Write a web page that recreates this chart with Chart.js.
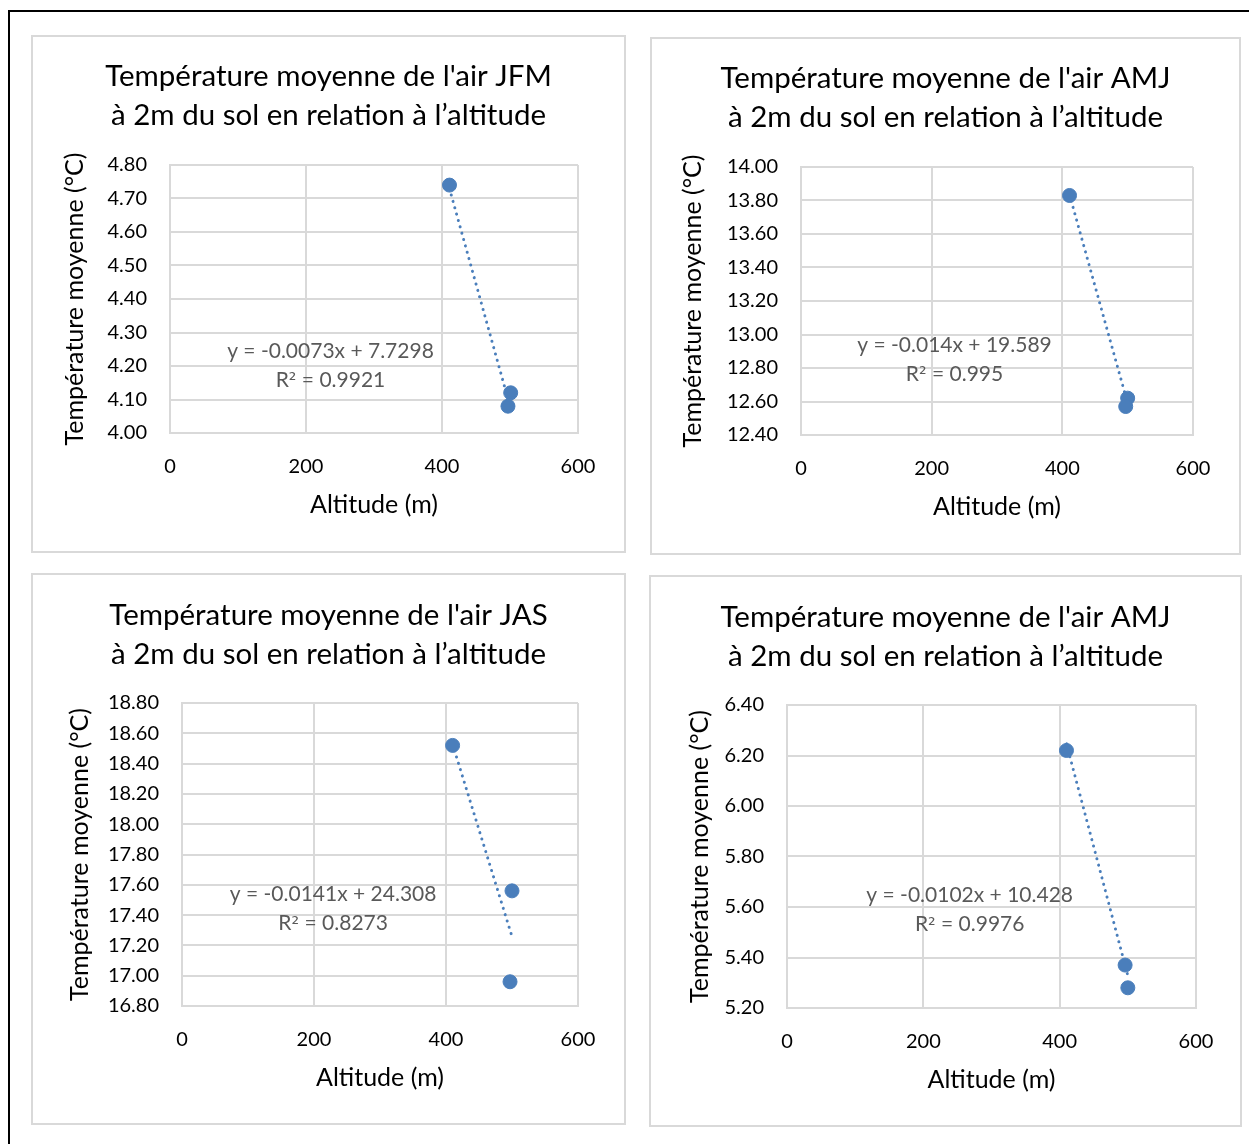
<!DOCTYPE html>
<html>
<head>
<meta charset="utf-8">
<script src="https://cdn.jsdelivr.net/npm/chart.js@4.4.1/dist/chart.umd.min.js"></script>
<style>
  body { margin: 0; background: #fff; width: 1249px; height: 1144px; overflow: hidden; position: relative; }
  #frame { position: absolute; left: 8px; top: 10px; width: 1260px; height: 1200px; border: 2px solid #000; }
  .panel { position: absolute; border: 2px solid #d9d9d9; background: #fff; }
  .panel canvas { display: block; }
</style>
</head>
<body>
<div id="frame"></div>
<div class="panel" style="left:31px;top:35px;width:591px;height:514px"><canvas id="c0"></canvas></div>
<div class="panel" style="left:650px;top:37px;width:587px;height:514px"><canvas id="c1"></canvas></div>
<div class="panel" style="left:31px;top:573px;width:591px;height:548px"><canvas id="c2"></canvas></div>
<div class="panel" style="left:649px;top:575px;width:589px;height:548px"><canvas id="c3"></canvas></div>
<script>
// titles of the four charts
const titleLines1 = [
  "Température moyenne de l'air JFM",
  "Température moyenne de l'air AMJ",
  "Température moyenne de l'air JAS",
  "Température moyenne de l'air AMJ"
];
const titleLine2 = "à 2m du sol en relation à l’altitude";
const xTitle = 'Altitude (m)';
const yTitle = 'Température moyenne (°C)';

// altitude (m) and mean temperature (°C) per station
const altJFM = [411, 501, 497];
const tempJFM = [4.74, 4.12, 4.08];
const altAMJ = [411, 500, 497];
const tempAMJ = [13.83, 12.62, 12.57];
const altJAS = [410, 500, 497];
const tempJAS = [18.52, 17.56, 16.96];
const altAMJ2 = [410, 496, 500];
const tempAMJ2 = [6.22, 5.37, 5.28];

// trendline equations shown on the charts
const slopes = [-0.0073, -0.014, -0.0141, -0.0102];
const intercepts = [7.7298, 19.589, 24.308, 10.428];
const eqLabels = ['y = -0.0073x + 7.7298', 'y = -0.014x + 19.589', 'y = -0.0141x + 24.308', 'y = -0.0102x + 10.428'];
const r2Values = ['0.9921', '0.995', '0.8273', '0.9976'];

// axis ranges / ticks
const xTicks = [0, 200, 400, 600];
const yMin = [4.0, 12.4, 16.8, 5.2];
const yMax = [4.8, 14.0, 18.8, 6.4];
const yStep = [0.1, 0.2, 0.2, 0.2];

const altitudes = [altJFM, altAMJ, altJAS, altAMJ2];
const temps = [tempJFM, tempAMJ, tempJAS, tempAMJ2];

// layout per panel (pixels inside each canvas)
const layouts = [
  { plotLeft: 137, right: 46, padBottom: 31, titleTop: 20, yTitlePad: 27, eqX: 236, eqY: 4.245 },
  { plotLeft: 149, right: 46, padBottom: 31, titleTop: 20, yTitlePad: 26, eqX: 235, eqY: 12.937 },
  { plotLeft: 149, right: 46, padBottom: 30, titleTop: 21, yTitlePad: 32, eqX: 229, eqY: 17.535 },
  { plotLeft: 136, right: 44, padBottom: 30, titleTop: 21, yTitlePad: 34, eqX: 268, eqY: 5.645 }
];

const FONT = 'Lato';
const blue = '#4a7ebb';

// draws the trendline equation and R² under it
const equationPlugin = {
  id: 'equation',
  afterDatasetsDraw(chart, args, opts) {
    const { ctx, scales } = chart;
    const px = scales.x.getPixelForValue(opts.x);
    const py = scales.y.getPixelForValue(opts.y);
    const main = '21px ' + FONT;
    const sup = '19px "DejaVu Sans"';
    ctx.save();
    ctx.fillStyle = '#595959';
    ctx.textBaseline = 'middle';
    ctx.font = main;
    ctx.textAlign = 'center';
    ctx.fillText(opts.eq, px, py);
    // second line: "R² = value", the ² taken from DejaVu so it reads bigger
    ctx.textAlign = 'left';
    const rest = ' = ' + opts.r2;
    const wR = ctx.measureText('R').width;
    const wRest = ctx.measureText(rest).width;
    ctx.font = sup;
    const wSup = ctx.measureText('²').width;
    let x = px - (wR + wSup + wRest) / 2;
    const y2 = py + 29;
    ctx.font = main;
    ctx.fillText('R', x, y2);
    x += wR;
    ctx.font = sup;
    ctx.fillText('²', x, y2 + 1);
    x += wSup;
    ctx.font = main;
    ctx.fillText(rest, x, y2);
    ctx.restore();
  }
};

for (let i = 0; i < 4; i++) {
  const L = layouts[i];
  const pts = altitudes[i].map((a, k) => ({ x: a, y: temps[i][k] }));
  const xs = altitudes[i];
  const x0 = Math.min(...xs), x1 = Math.max(...xs);
  const trend = [x0, x1].map(x => ({ x: x, y: slopes[i] * x + intercepts[i] }));

  new Chart(document.getElementById('c' + i), {
    type: 'scatter',
    data: {
      datasets: [
        {
          data: pts,
          backgroundColor: blue,
          borderColor: blue,
          pointRadius: 7,
          order: 1
        },
        {
          type: 'line',
          data: trend,
          borderColor: blue,
          borderWidth: 3,
          borderDash: [0.1, 6.5],
          borderCapStyle: 'round',
          pointRadius: 0,
          fill: false,
          order: 2
        }
      ]
    },
    options: {
      responsive: true,
      maintainAspectRatio: false,
      animation: false,
      layout: { padding: { left: 0, top: 0, right: 0, bottom: L.padBottom } },
      plugins: {
        legend: { display: false },
        tooltip: { enabled: false },
        title: {
          display: true,
          text: [titleLines1[i], titleLine2],
          color: '#000',
          font: { family: FONT, size: 29.5, weight: 'normal', lineHeight: 39 / 29.5 },
          padding: { top: L.titleTop, bottom: 128 - L.titleTop - 78 }
        },
        equation: { x: L.eqX, y: L.eqY, eq: eqLabels[i], r2: r2Values[i] }
      },
      scales: {
        x: {
          type: 'linear',
          min: xTicks[0],
          max: xTicks[xTicks.length - 1],
          afterBuildTicks: s => { s.ticks = xTicks.map(v => ({ value: v })); },
          ticks: { color: '#000', font: { family: FONT, size: 20 }, padding: 22 },
          grid: { color: '#d9d9d9', lineWidth: 2, drawTicks: false },
          border: { color: '#d9d9d9', width: 2 },
          title: { display: true, text: xTitle, color: '#000', font: { family: FONT, size: 25 }, padding: 0 },
          afterFit: s => { s.height = 87; }
        },
        y: {
          type: 'linear',
          min: yMin[i],
          max: yMax[i],
          ticks: {
            stepSize: yStep[i],
            color: '#000',
            font: { family: FONT, size: 20 },
            padding: 23,
            callback: v => Number(v).toFixed(2)
          },
          grid: { color: '#d9d9d9', lineWidth: 2, drawTicks: false },
          border: { color: '#d9d9d9', width: 2 },
          title: { display: true, text: yTitle, color: '#000', font: { family: FONT, size: 25 }, padding: { top: L.yTitlePad, bottom: 0 } },
          afterFit: s => { s.width = L.plotLeft; }
        },
        // empty right-hand axis that only reserves the margin, so the title stays centred on the panel
        yRight: {
          type: 'linear',
          position: 'right',
          min: yMin[i],
          max: yMax[i],
          grid: { display: false, drawTicks: false },
          border: { display: false },
          ticks: { display: false },
          afterFit: s => { s.width = L.right; }
        }
      }
    },
    plugins: [equationPlugin]
  });
}
</script>
</body>
</html>
